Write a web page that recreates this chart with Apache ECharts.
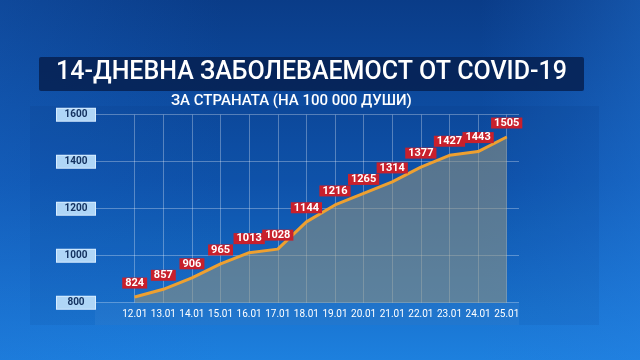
<!DOCTYPE html>
<html>
<head>
<meta charset="utf-8">
<script src="https://cdn.jsdelivr.net/npm/echarts@6/dist/echarts.min.js"></script>
<style>
  html, body { margin: 0; padding: 0; }
  #chart { width: 640px; height: 360px; }
</style>
</head>
<body>
<div id="chart"></div>
<script>
// data
const days = ['12.01', '13.01', '14.01', '15.01', '16.01', '17.01', '18.01',
  '19.01', '20.01', '21.01', '22.01', '23.01', '24.01', '25.01'];
const incidence = [824, 857, 906, 965, 1013, 1028, 1144, 1216, 1265, 1314, 1377, 1427, 1443, 1505];
const yTicks = [800, 1000, 1200, 1400, 1600];

const titleText = '14-ДНЕВНА ЗАБОЛЕВАЕМОСТ ОТ COVID-19';
const subtitleText = 'ЗА СТРАНАТА (НА 100 000 ДУШИ)';

const chart = echarts.init(document.getElementById('chart'));

const gridTop = 114.7;
const gridBottom = 57.3;

chart.setOption({
  animation: false,
  backgroundColor: new echarts.graphic.LinearGradient(0, 0, 0, 1, [
    { offset: 0, color: '#0a3c88' },
    { offset: 0.5, color: '#0f56b0' },
    { offset: 1, color: '#1d80de' }
  ]),
  graphic: [
    // lighter glow on the sides
    {
      type: 'rect', z: -10, silent: true,
      shape: { x: 0, y: 0, width: 640, height: 360 },
      style: {
        fill: new echarts.graphic.LinearGradient(0, 0, 1, 0, [
          { offset: 0, color: 'rgba(30,110,210,0.25)' },
          { offset: 0.35, color: 'rgba(30,110,210,0)' },
          { offset: 0.75, color: 'rgba(40,120,220,0)' },
          { offset: 1, color: 'rgba(40,130,230,0.35)' }
        ])
      }
    },
    // chart panel
    {
      type: 'rect', z: -5, silent: true,
      shape: { x: 30, y: 106, width: 569, height: 219 },
      style: { fill: 'rgba(0,25,70,0.06)' }
    },
    // x label band
    {
      type: 'rect', z: -4, silent: true,
      shape: { x: 95, y: 303, width: 424, height: 22 },
      style: { fill: 'rgba(120,180,240,0.10)' }
    },
    // title box
    {
      type: 'rect', z: 1, silent: true,
      shape: { x: 39, y: 57, width: 545, height: 34, r: 2 },
      style: { fill: 'rgba(6,32,80,0.85)' }
    },
    {
      type: 'text', z: 2, silent: true,
      left: 56, top: 60,
      style: {
        text: titleText,
        fill: '#ffffff',
        font: '500 25px Roboto'
      }
    },
    {
      type: 'text', z: 2, silent: true,
      left: 171, top: 94,
      style: {
        text: subtitleText,
        fill: '#ffffff',
        font: '500 15px Roboto'
      }
    }
  ],
  grid: [
    { left: 134.7, right: 133.3, top: gridTop, bottom: gridBottom },
    { left: 95, right: 121, top: gridTop, bottom: gridBottom }
  ],
  xAxis: [
    {
      type: 'category',
      gridIndex: 0,
      data: days,
      boundaryGap: false,
      axisLine: { show: false },
      axisTick: { show: false },
      axisLabel: {
        color: '#ffffff',
        fontSize: 10,
        fontFamily: 'Roboto',
        margin: 7,
        interval: 0
      },
      splitLine: {
        show: true,
        lineStyle: { color: 'rgba(255,255,255,0.3)', width: 1 }
      }
    },
    {
      type: 'category',
      gridIndex: 1,
      data: days,
      show: false
    }
  ],
  yAxis: [
    {
      type: 'value',
      gridIndex: 0,
      min: 800, max: 1600, interval: 200,
      show: false
    },
    {
      type: 'value',
      gridIndex: 1,
      min: 800, max: 1600, interval: 200,
      axisLine: { show: false },
      axisTick: { show: false },
      axisLabel: {
        margin: 0,
        formatter: (v) => yTicks.includes(v) ? '{box|' + v + '}' : '',
        rich: {
          box: {
            color: '#12305e',
            fontSize: 10,
            fontWeight: 'bold',
            fontFamily: 'Roboto',
            backgroundColor: '#afd6f7',
            borderColor: '#d6ecff',
            borderWidth: 1,
            width: 38,
            height: 12,
            lineHeight: 12,
            align: 'center'
          }
        }
      },
      splitLine: {
        lineStyle: { color: 'rgba(255,255,255,0.3)', width: 1 }
      }
    }
  ],
  series: [
    {
      type: 'line',
      xAxisIndex: 0,
      yAxisIndex: 0,
      data: incidence,
      symbol: 'circle',
      symbolSize: 1,
      showSymbol: true,
      itemStyle: { color: '#eea030' },
      lineStyle: { color: '#eea030', width: 3 },
      areaStyle: {
        color: 'rgba(150,148,125,0.78)',
        origin: 'start'
      },
      label: {
        show: true,
        position: 'top',
        distance: 8,
        color: '#ffffff',
        fontSize: 11,
        fontWeight: 'bold',
        fontFamily: 'Roboto',
        backgroundColor: '#c8202c',
        padding: [0, 3, 0, 3],
        lineHeight: 11
      }
    }
  ]
});
</script>
</body>
</html>
